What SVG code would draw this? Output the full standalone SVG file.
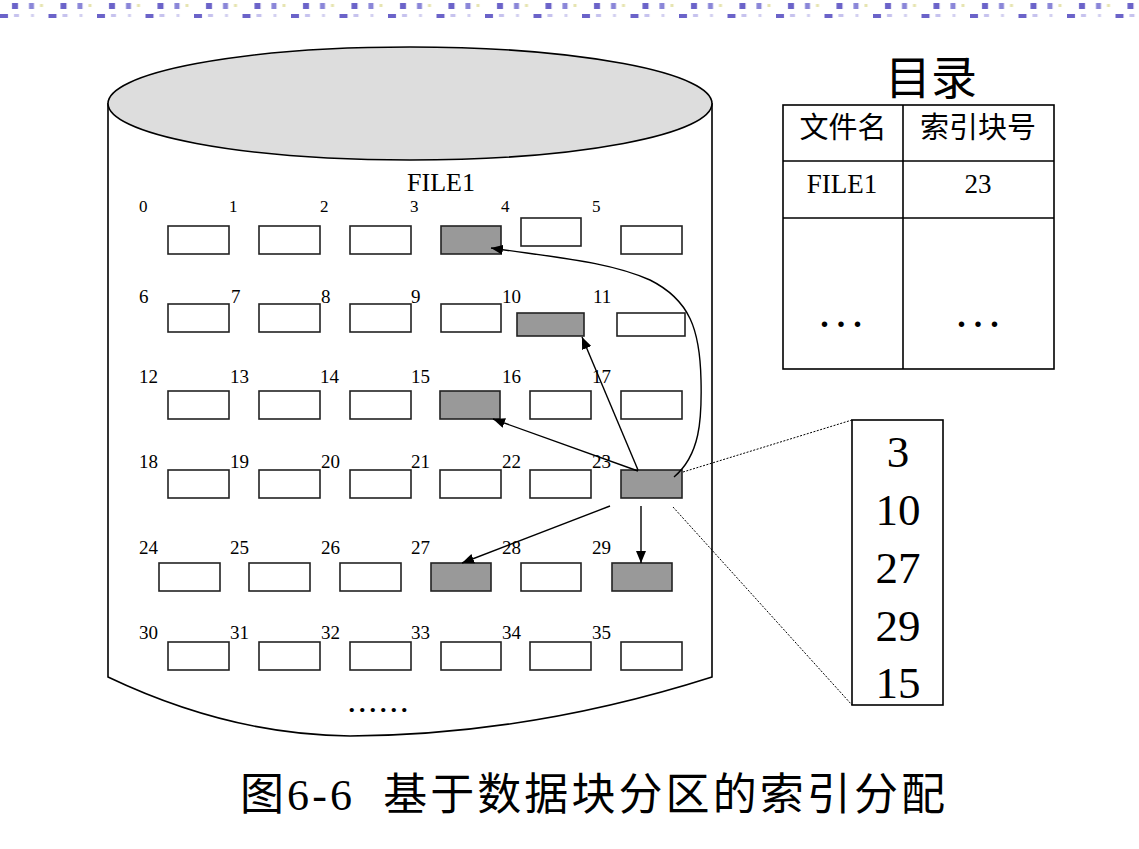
<svg xmlns="http://www.w3.org/2000/svg" width="1139" height="849" viewBox="0 0 1139 849">
<defs>
<pattern id="strip" x="0" y="0" width="48.5" height="22" patternUnits="userSpaceOnUse">
<rect x="12" y="3" width="6" height="6" fill="#6b63c9"/>
<rect x="29" y="3" width="5" height="6" fill="#8a86d8"/>
<rect x="40" y="4" width="3" height="3" fill="#e6e4b0"/>
<rect x="0" y="14" width="8" height="4" fill="#6b63c9"/>
<rect x="14" y="14" width="5" height="3" fill="#c6c2ee"/>
<rect x="31" y="14" width="3" height="3" fill="#d2cff0"/>
</pattern>
<marker id="ah" viewBox="0 0 12 10" refX="12" refY="5" markerWidth="12" markerHeight="10" markerUnits="userSpaceOnUse" orient="auto">
<path d="M0,0 L12,5 L0,10 Z" fill="#000"/>
</marker>
<style>
.blk{fill:#fff;stroke:#222;stroke-width:1.6}
.blk.on{fill:#999}
.num{font-family:"Liberation Serif",serif;font-size:19px;fill:#000}
.num0{font-family:"Liberation Serif",serif;font-size:17px;fill:#000}
.con{fill:none;stroke:#000;stroke-width:1.4}
.dot{fill:none;stroke:#000;stroke-width:1;stroke-dasharray:2,1.5}
.tb{fill:none;stroke:#000;stroke-width:1.6}
.serif{font-family:"Liberation Serif","Noto Sans CJK SC",serif;fill:#000}
</style>
</defs>
<rect x="0" y="0" width="1139" height="849" fill="#fff"/>
<rect x="0" y="0" width="1139" height="22" fill="url(#strip)"/>

<g id="disk">
<path d="M108,103 L108,677 Q230,735 350,736 Q530,735 712,677 L712,103" fill="#fff" stroke="#000" stroke-width="1.6"/>
<ellipse cx="410" cy="103.5" rx="302" ry="56.5" fill="#ddd" stroke="#000" stroke-width="1.6"/>
<text class="serif" x="441" y="191" font-size="26" text-anchor="middle">FILE1</text>
<text class="serif" x="380" y="712" font-size="26" font-weight="bold" letter-spacing="4" text-anchor="middle">......</text>
</g>

<g id="blocks">
<g class="num0">
<text x="139" y="212">0</text><text x="229" y="212">1</text><text x="320" y="212">2</text><text x="410" y="212">3</text><text x="501" y="212">4</text><text x="592" y="212">5</text>
</g>
<g class="num">
<text x="139" y="303">6</text><text x="231" y="303">7</text><text x="321" y="303">8</text><text x="411" y="303">9</text><text x="502" y="303">10</text><text x="593" y="303">11</text>
<text x="139" y="383">12</text><text x="230" y="383">13</text><text x="320" y="383">14</text><text x="411" y="383">15</text><text x="502" y="383">16</text><text x="592" y="383">17</text>
<text x="139" y="468">18</text><text x="230" y="468">19</text><text x="321" y="468">20</text><text x="411" y="468">21</text><text x="502" y="468">22</text><text x="592" y="468">23</text>
<text x="139" y="554">24</text><text x="230" y="554">25</text><text x="321" y="554">26</text><text x="411" y="554">27</text><text x="502" y="554">28</text><text x="592" y="554">29</text>
<text x="139" y="639">30</text><text x="230" y="639">31</text><text x="321" y="639">32</text><text x="411" y="639">33</text><text x="502" y="639">34</text><text x="592" y="639">35</text>
</g>
<g id="b0"><rect class="blk" x="168" y="226" width="61" height="28"/></g>
<g id="b1"><rect class="blk" x="259" y="226" width="61" height="28"/></g>
<g id="b2"><rect class="blk" x="350" y="226" width="61" height="28"/></g>
<g id="b3"><rect class="blk on" x="441" y="226" width="60" height="28"/></g>
<g id="b4"><rect class="blk" x="521" y="218" width="60" height="28"/></g>
<g id="b5"><rect class="blk" x="621" y="226" width="61" height="28"/></g>

<g id="b6"><rect class="blk" x="168" y="304" width="61" height="28"/></g>
<g id="b7"><rect class="blk" x="259" y="304" width="61" height="28"/></g>
<g id="b8"><rect class="blk" x="350" y="304" width="61" height="28"/></g>
<g id="b9"><rect class="blk" x="441" y="304" width="60" height="28"/></g>
<g id="b10"><rect class="blk on" x="517" y="313" width="67" height="23"/></g>
<g id="b11"><rect class="blk" x="617" y="313" width="68" height="23"/></g>

<g id="b12"><rect class="blk" x="168" y="391" width="61" height="28"/></g>
<g id="b13"><rect class="blk" x="259" y="391" width="61" height="28"/></g>
<g id="b14"><rect class="blk" x="350" y="391" width="61" height="28"/></g>
<g id="b15"><rect class="blk on" x="440" y="391" width="60" height="28"/></g>
<g id="b16"><rect class="blk" x="530" y="391" width="61" height="28"/></g>
<g id="b17"><rect class="blk" x="621" y="391" width="61" height="28"/></g>

<g id="b18"><rect class="blk" x="168" y="470" width="61" height="28"/></g>
<g id="b19"><rect class="blk" x="259" y="470" width="61" height="28"/></g>
<g id="b20"><rect class="blk" x="350" y="470" width="61" height="28"/></g>
<g id="b21"><rect class="blk" x="440" y="470" width="61" height="28"/></g>
<g id="b22"><rect class="blk" x="530" y="470" width="61" height="28"/></g>
<g id="b23"><rect class="blk on" x="621" y="470" width="61" height="28"/></g>

<g id="b24"><rect class="blk" x="159" y="563" width="61" height="28"/></g>
<g id="b25"><rect class="blk" x="249" y="563" width="61" height="28"/></g>
<g id="b26"><rect class="blk" x="340" y="563" width="61" height="28"/></g>
<g id="b27"><rect class="blk on" x="431" y="563" width="60" height="28"/></g>
<g id="b28"><rect class="blk" x="521" y="563" width="60" height="28"/></g>
<g id="b29"><rect class="blk on" x="612" y="563" width="60" height="28"/></g>

<g id="b30"><rect class="blk" x="168" y="642" width="61" height="28"/></g>
<g id="b31"><rect class="blk" x="259" y="642" width="61" height="28"/></g>
<g id="b32"><rect class="blk" x="350" y="642" width="61" height="28"/></g>
<g id="b33"><rect class="blk" x="441" y="642" width="60" height="28"/></g>
<g id="b34"><rect class="blk" x="530" y="642" width="61" height="28"/></g>
<g id="b35"><rect class="blk" x="621" y="642" width="61" height="28"/></g>
</g>

<g id="connectors">
<path class="con" d="M674,477 C700,455 702,420 701,380 C700,330 690,300 650,280 C610,262 560,258 491,248" marker-end="url(#ah)"/>
<line class="con" x1="638" y1="470" x2="582" y2="337" marker-end="url(#ah)"/>
<line class="con" x1="638" y1="471" x2="493" y2="419" marker-end="url(#ah)"/>
<line class="con" x1="610" y1="506" x2="462" y2="563" marker-end="url(#ah)"/>
<line class="con" x1="641" y1="506" x2="641" y2="563" marker-end="url(#ah)"/>
<line class="dot" x1="683" y1="472" x2="852" y2="420"/>
<line class="dot" x1="673" y1="507" x2="852" y2="705"/>
</g>

<g id="index-block">
<rect class="tb" x="852" y="420" width="91" height="285" fill="#fff"/>
<g class="serif" font-size="45" text-anchor="middle">
<text x="898" y="467">3</text>
<text x="898" y="525">10</text>
<text x="898" y="583">27</text>
<text x="898" y="641">29</text>
<text x="898" y="698">15</text>
</g>
</g>

<g id="directory">
<text class="serif" x="931" y="94" font-size="46" text-anchor="middle">目录</text>
<rect class="tb" x="783" y="105" width="271" height="264" fill="#fff"/>
<line class="tb" x1="903" y1="105" x2="903" y2="369"/>
<line class="tb" x1="783" y1="161" x2="1054" y2="161"/>
<line class="tb" x1="783" y1="218" x2="1054" y2="218"/>
<g class="serif" text-anchor="middle">
<text x="843" y="138" font-size="29">文件名</text>
<text x="978" y="138" font-size="29">索引块号</text>
<text x="842" y="193" font-size="27">FILE1</text>
<text x="978" y="193" font-size="27">23</text>
<text x="845" y="327" font-size="34" font-weight="bold" letter-spacing="8">...</text>
<text x="982" y="327" font-size="34" font-weight="bold" letter-spacing="8">...</text>
</g>
</g>

<g id="caption">
<text class="serif" x="240" y="810" font-size="44" textLength="705" lengthAdjust="spacing" xml:space="preserve">图6-6  基于数据块分区的索引分配</text>
</g>
</svg>
